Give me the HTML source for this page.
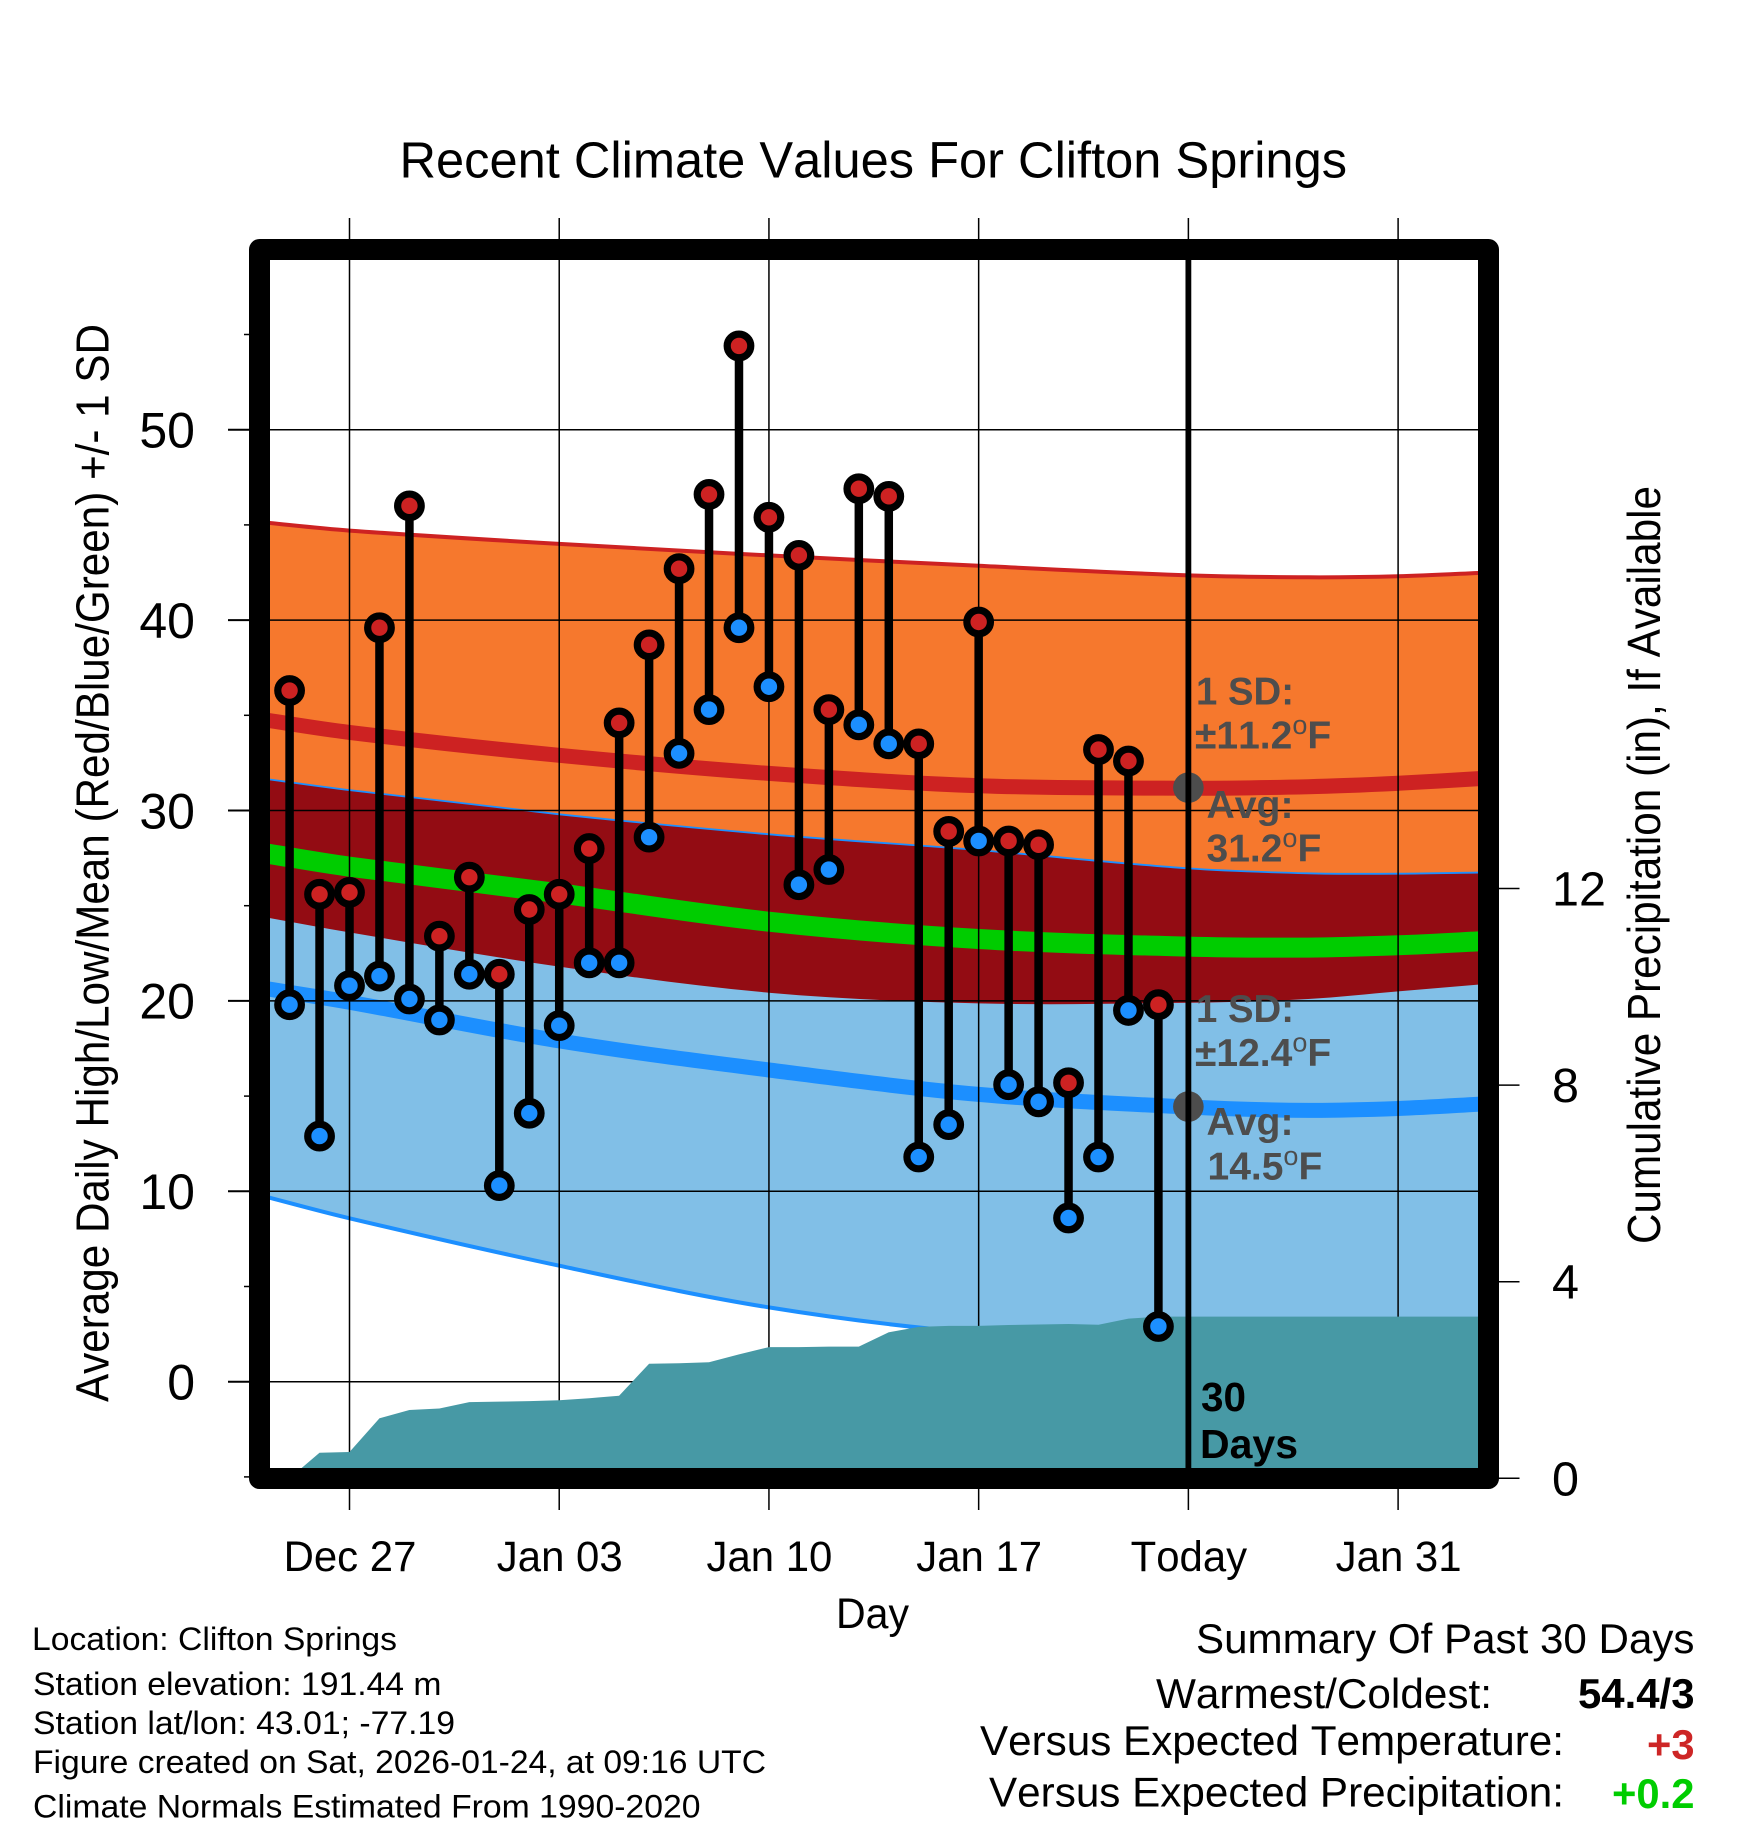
<!DOCTYPE html>
<html lang="en">
<head>
<meta charset="utf-8">
<title>Recent Climate Values For Clifton Springs</title>
<style>
html,body{margin:0;padding:0;background:#fff}
svg{display:block}
text{font-family:"Liberation Sans",sans-serif;fill:#000;font-kerning:none}
.b{font-weight:bold}
.g{font-weight:bold;fill:#4d4d4d;font-size:39px}
.g tspan.d{font-weight:normal;font-size:27px}
.s{font-size:32.5px}
.m{font-size:42px}
</style>
</head>
<body>
<svg id="chart" xmlns="http://www.w3.org/2000/svg" width="1748" height="1828" viewBox="0 0 1748 1828">
<defs><clipPath id="plot-clip"><rect x="270" y="260" width="1208" height="1208"/></clipPath></defs>
<rect x="0" y="0" width="1748" height="1828" fill="#fff"/>
<g id="plot" clip-path="url(#plot-clip)"></g>
<g id="outer-grid"></g>
<rect x="259.5" y="249.5" width="1229" height="1229" fill="none" stroke="#000" stroke-width="21" stroke-linejoin="round"/>
<g id="labels"></g>
<g id="top-marks"></g>

<text x="399.5" y="177.5" font-size="51" textLength="947.5" lengthAdjust="spacingAndGlyphs">Recent Climate Values For Clifton Springs</text>
<text transform="translate(108.5,1402) rotate(-90)" font-size="46" textLength="1078" lengthAdjust="spacingAndGlyphs">Average Daily High/Low/Mean (Red/Blue/Green) +/- 1 SD</text>
<text transform="translate(1660,1244) rotate(-90)" font-size="46" textLength="758" lengthAdjust="spacingAndGlyphs">Cumulative Precipitation (in), If Available</text>
<text x="836" y="1628" font-size="43" textLength="73" lengthAdjust="spacingAndGlyphs">Day</text>

<text class="g" x="1196" y="704.5" textLength="98" lengthAdjust="spacingAndGlyphs">1 SD:</text>
<text class="g" x="1195" y="748.5">±11.2<tspan class="d" dy="-14.5">o</tspan><tspan dy="14.5">F</tspan></text>
<text class="g" x="1206.5" y="818" textLength="87" lengthAdjust="spacingAndGlyphs">Avg:</text>
<text class="g" x="1206.5" y="861.5">31.2<tspan class="d" dy="-14.5">o</tspan><tspan dy="14.5">F</tspan></text>
<text class="g" x="1196" y="1022" textLength="98" lengthAdjust="spacingAndGlyphs">1 SD:</text>
<text class="g" x="1195" y="1066">±12.4<tspan class="d" dy="-14.5">o</tspan><tspan dy="14.5">F</tspan></text>
<text class="g" x="1206.5" y="1135" textLength="87" lengthAdjust="spacingAndGlyphs">Avg:</text>
<text class="g" x="1207.5" y="1179.5">14.5<tspan class="d" dy="-14.5">o</tspan><tspan dy="14.5">F</tspan></text>
<text class="b" x="1201" y="1411" font-size="41" textLength="45" lengthAdjust="spacingAndGlyphs">30</text>
<text class="b" x="1200" y="1458" font-size="41" textLength="98" lengthAdjust="spacingAndGlyphs">Days</text>

<text class="s" x="32" y="1650" textLength="365" lengthAdjust="spacingAndGlyphs">Location: Clifton Springs</text>
<text class="s" x="33" y="1695" textLength="408.5" lengthAdjust="spacingAndGlyphs">Station elevation: 191.44 m</text>
<text class="s" x="33" y="1734" textLength="422" lengthAdjust="spacingAndGlyphs">Station lat/lon: 43.01; -77.19</text>
<text class="s" x="33" y="1773" textLength="733" lengthAdjust="spacingAndGlyphs">Figure created on Sat, 2026-01-24, at 09:16 UTC</text>
<text class="s" x="33" y="1817.5" textLength="667.5" lengthAdjust="spacingAndGlyphs">Climate Normals Estimated From 1990-2020</text>

<text class="m" x="1196" y="1653" textLength="498.5" lengthAdjust="spacingAndGlyphs">Summary Of Past 30 Days</text>
<text class="m" x="1156" y="1708" textLength="336" lengthAdjust="spacingAndGlyphs">Warmest/Coldest:</text>
<text class="m b" x="1578" y="1708" textLength="116.5" lengthAdjust="spacingAndGlyphs">54.4/3</text>
<text class="m" x="980" y="1755" textLength="584" lengthAdjust="spacingAndGlyphs">Versus Expected Temperature:</text>
<text class="m b" x="1647" y="1759" textLength="47.5" lengthAdjust="spacingAndGlyphs" style="fill:#cd2626">+3</text>
<text class="m" x="989" y="1806.5" textLength="575" lengthAdjust="spacingAndGlyphs">Versus Expected Precipitation:</text>
<text class="m b" x="1612" y="1808" textLength="82.5" lengthAdjust="spacingAndGlyphs" style="fill:#00cd00">+0.2</text>
</svg>

<script>
// ---- data ----
const dayLabels = ["Dec 25","Dec 26","Dec 27","Dec 28","Dec 29","Dec 30","Dec 31","Jan 01","Jan 02","Jan 03","Jan 04","Jan 05","Jan 06","Jan 07","Jan 08","Jan 09","Jan 10","Jan 11","Jan 12","Jan 13","Jan 14","Jan 15","Jan 16","Jan 17","Jan 18","Jan 19","Jan 20","Jan 21","Jan 22","Jan 23"];
const dailyHighs = [36.3,25.6,25.7,39.6,46.0,23.4,26.5,21.4,24.8,25.6,28.0,34.6,38.7,42.7,46.6,54.4,45.4,43.4,35.3,46.9,46.5,33.5,28.9,39.9,28.4,28.2,15.7,33.2,32.6,19.8];
const dailyLows = [19.8,12.9,20.8,21.3,20.1,19.0,21.4,10.3,14.1,18.7,22.0,22.0,28.6,33.0,35.3,39.6,36.5,26.1,26.9,34.5,33.5,11.8,13.5,28.4,15.6,14.7,8.6,11.8,19.5,2.9];
const cumulativePrecip = [0,0.52,0.535,1.22,1.39,1.42,1.55,1.56,1.57,1.59,1.63,1.68,2.33,2.34,2.36,2.52,2.67,2.67,2.68,2.68,2.97,3.08,3.10,3.10,3.12,3.13,3.14,3.125,3.25,3.29];

const normalDays = [-3,0,7,14,21,28,32,35,38];
const highPlusSD = [45.15,44.7,44.0,43.4,42.85,42.35,42.25,42.3,42.5];
const highAvg = [34.8,34.1,32.9,31.95,31.3,31.17,31.25,31.43,31.7];
const lowPlusSD = [31.7,31.07,29.8,28.75,27.92,26.96,26.7,26.68,26.75];
const highMinusSD = [24.45,23.6,21.8,20.43,19.87,19.9,20.1,20.5,20.9];
const meanAvg = [27.8,27.05,25.65,24.16,23.25,22.85,22.8,22.92,23.15];
const lowAvg = [20.7,19.93,17.9,16.37,15.09,14.43,14.25,14.35,14.6];
const lowMinusSD = [9.8,8.58,6.09,3.9,2.55,2.1,1.9,2.0,2.2];

const xTickDays = [0,7,14,21,28,35];
const xTickLabels = ["Dec 27","Jan 03","Jan 10","Jan 17","Today","Jan 31"];
const yTickValues = [0,10,20,30,40,50];
const yMinorValues = [-5,5,15,25,35,45,55];
const precipTickValues = [0,4,8,12];
const todayHighAvg = 31.2;
const todayLowAvg = 14.45;
const todayOffset = 28;

// ---- axis functions ----
const SVGNS = "http://www.w3.org/2000/svg";
function xScale(d){ return 349.5 + 29.96 * d; }
function yScale(v){ return 1381.7 - 19.04 * v; }
function yPrecip(v){ return 1478.3 - 49.15 * v; }
function dayOffset(i){ return i - 2; }

function mk(parent, tag, attrs){
  const el = document.createElementNS(SVGNS, tag);
  for (const k in attrs) el.setAttribute(k, attrs[k]);
  parent.appendChild(el);
  return el;
}
// smooth curve: Hermite spline with slopes from neighbouring samples
function curve(days, vals, reverse){
  const pts = days.map((d,i)=>[xScale(d), yScale(vals[i])]);
  const n = pts.length;
  const slope = pts.map((p,i)=>{
    const a = pts[Math.max(i-1,0)], b = pts[Math.min(i+1,n-1)];
    return (b[1]-a[1])/(b[0]-a[0]);
  });
  const segs = [];
  for (let i=0;i<n-1;i++){
    const dx = (pts[i+1][0]-pts[i][0])/3;
    segs.push([pts[i],[pts[i][0]+dx,pts[i][1]+slope[i]*dx],[pts[i+1][0]-dx,pts[i+1][1]-slope[i+1]*dx],pts[i+1]]);
  }
  const f = p => p[0].toFixed(1)+" "+p[1].toFixed(1);
  let s = "";
  if (reverse){
    for (let i=segs.length-1;i>=0;i--) s += " C"+f(segs[i][2])+" "+f(segs[i][1])+" "+f(segs[i][0]);
    return {start:pts[n-1], d:s};
  }
  segs.forEach(g=>{ s += " C"+f(g[1])+" "+f(g[2])+" "+f(g[3]); });
  return {start:pts[0], d:s};
}
function linePath(vals){
  const c = curve(normalDays, vals, false);
  return "M"+c.start[0].toFixed(1)+" "+c.start[1].toFixed(1)+c.d;
}
function bandPath(upper, lower){
  const a = curve(normalDays, upper, false), b = curve(normalDays, lower, true);
  return "M"+a.start[0].toFixed(1)+" "+a.start[1].toFixed(1)+a.d+" L"+b.start[0].toFixed(1)+" "+b.start[1].toFixed(1)+b.d+" Z";
}

const plot = document.getElementById("plot");
const outer = document.getElementById("outer-grid");
const labels = document.getElementById("labels");
const topMarks = document.getElementById("top-marks");

// bands
const highBand = mk(plot,"path",{d:bandPath(highPlusSD,highMinusSD),fill:"#f6782d"});


const lowBand = mk(plot,"path",{d:bandPath(lowPlusSD,lowMinusSD),fill:"#81bfe7"});


const overlapBand = mk(plot,"path",{d:bandPath(lowPlusSD,highMinusSD),fill:"#930c13"});



// band edges
const highEdge = mk(plot,"path",{d:linePath(highPlusSD),fill:"none",stroke:"#cd2222","stroke-width":4});


const lowTopEdge = mk(plot,"path",{d:linePath(lowPlusSD),fill:"none",stroke:"#1c8fff","stroke-width":1.8});


const lowEdge = mk(plot,"path",{d:linePath(lowMinusSD),fill:"none",stroke:"#1c8fff","stroke-width":4});



// average lines
const highLine = mk(plot,"path",{d:linePath(highAvg),fill:"none",stroke:"#cd2222","stroke-width":15});


const meanLine = mk(plot,"path",{d:linePath(meanAvg),fill:"none",stroke:"#00cc00","stroke-width":20});


const lowLine = mk(plot,"path",{d:linePath(lowAvg),fill:"none",stroke:"#1c8fff","stroke-width":15});



// grid lines
yTickValues.forEach(v=>{
  const g = mk(plot,"line",{x1:270,x2:1478,y1:yScale(v),y2:yScale(v),stroke:"#000","stroke-width":1.5});
  
  
});
xTickDays.forEach(d=>{
  const g = mk(outer,"line",{x1:xScale(d),x2:xScale(d),y1:218,y2:1510,stroke:"#000","stroke-width":1.5});
  
  
});
plot.parentNode.insertBefore(outer, plot.nextSibling);

// precipitation area (drawn over the grid)
const precipPts = cumulativePrecip.map((p,i)=>xScale(dayOffset(i)).toFixed(1)+","+yPrecip(p).toFixed(1));
precipPts.push("1490,"+yPrecip(cumulativePrecip[cumulativePrecip.length-1]).toFixed(1));
precipPts.push("1490,"+yPrecip(0).toFixed(1));
const precipArea = mk(topMarks,"polygon",{points:precipPts.join(" "),fill:"#4799a5"});


precipArea.setAttribute('clip-path', 'url(#plot-clip)');
outer.parentNode.insertBefore(topMarks, outer.nextSibling);

// left ticks
yTickValues.forEach(v=>{
  const t = mk(outer,"line",{x1:228,x2:250,y1:yScale(v),y2:yScale(v),stroke:"#000","stroke-width":2});
  
  
  const l = mk(labels,"text",{x:195,y:yScale(v)+17.8,"font-size":50,"text-anchor":"end"});
  l.textContent = String(v);
  
  
});
yMinorValues.forEach(v=>{
  const t = mk(outer,"line",{x1:244,x2:250,y1:yScale(v),y2:yScale(v),stroke:"#000","stroke-width":1.5});
  
  
});
// right ticks
precipTickValues.forEach(v=>{
  const t = mk(outer,"line",{x1:1498,x2:1519.5,y1:yPrecip(v),y2:yPrecip(v),stroke:"#000","stroke-width":1.5});
  
  
  const l = mk(labels,"text",{x:1552,y:yPrecip(v)+17,"font-size":48.5});
  l.textContent = String(v);
  
  
});
// x tick labels
xTickDays.forEach((d,i)=>{
  const l = mk(labels,"text",{transform:"translate("+(xScale(d)+0.5)+",1571) scale(0.975,1)","font-size":43,"text-anchor":"middle"});
  l.textContent = xTickLabels[i];
  
  
});

// daily stems and markers
const daily = document.createElementNS(SVGNS,"g");


topMarks.appendChild(daily);
dayLabels.forEach((label,i)=>{
  const x = xScale(dayOffset(i));
  const stem = mk(daily,"line",{x1:x,x2:x,y1:yScale(dailyHighs[i]),y2:yScale(dailyLows[i]),stroke:"#000","stroke-width":8.5});
  
  
});
dayLabels.forEach((label,i)=>{
  const x = xScale(dayOffset(i));
  const lo = mk(daily,"circle",{cx:x,cy:yScale(dailyLows[i]),r:11.8,fill:"#1c8fff",stroke:"#000","stroke-width":7.2});
  
  
  const hi = mk(daily,"circle",{cx:x,cy:yScale(dailyHighs[i]),r:11.8,fill:"#cd2222",stroke:"#000","stroke-width":7.2});
  
  
});

// today marker (line runs over the grey discs)
const todayHigh = mk(topMarks,"circle",{cx:xScale(todayOffset),cy:yScale(todayHighAvg),r:15.3,fill:"#4d4d4d"});


const todayLow = mk(topMarks,"circle",{cx:xScale(todayOffset),cy:yScale(todayLowAvg),r:15.3,fill:"#4d4d4d"});


const todayLine = mk(topMarks,"line",{x1:xScale(todayOffset),x2:xScale(todayOffset),y1:260,y2:1468,stroke:"#000","stroke-width":5.8});


</script>
</body>
</html>
